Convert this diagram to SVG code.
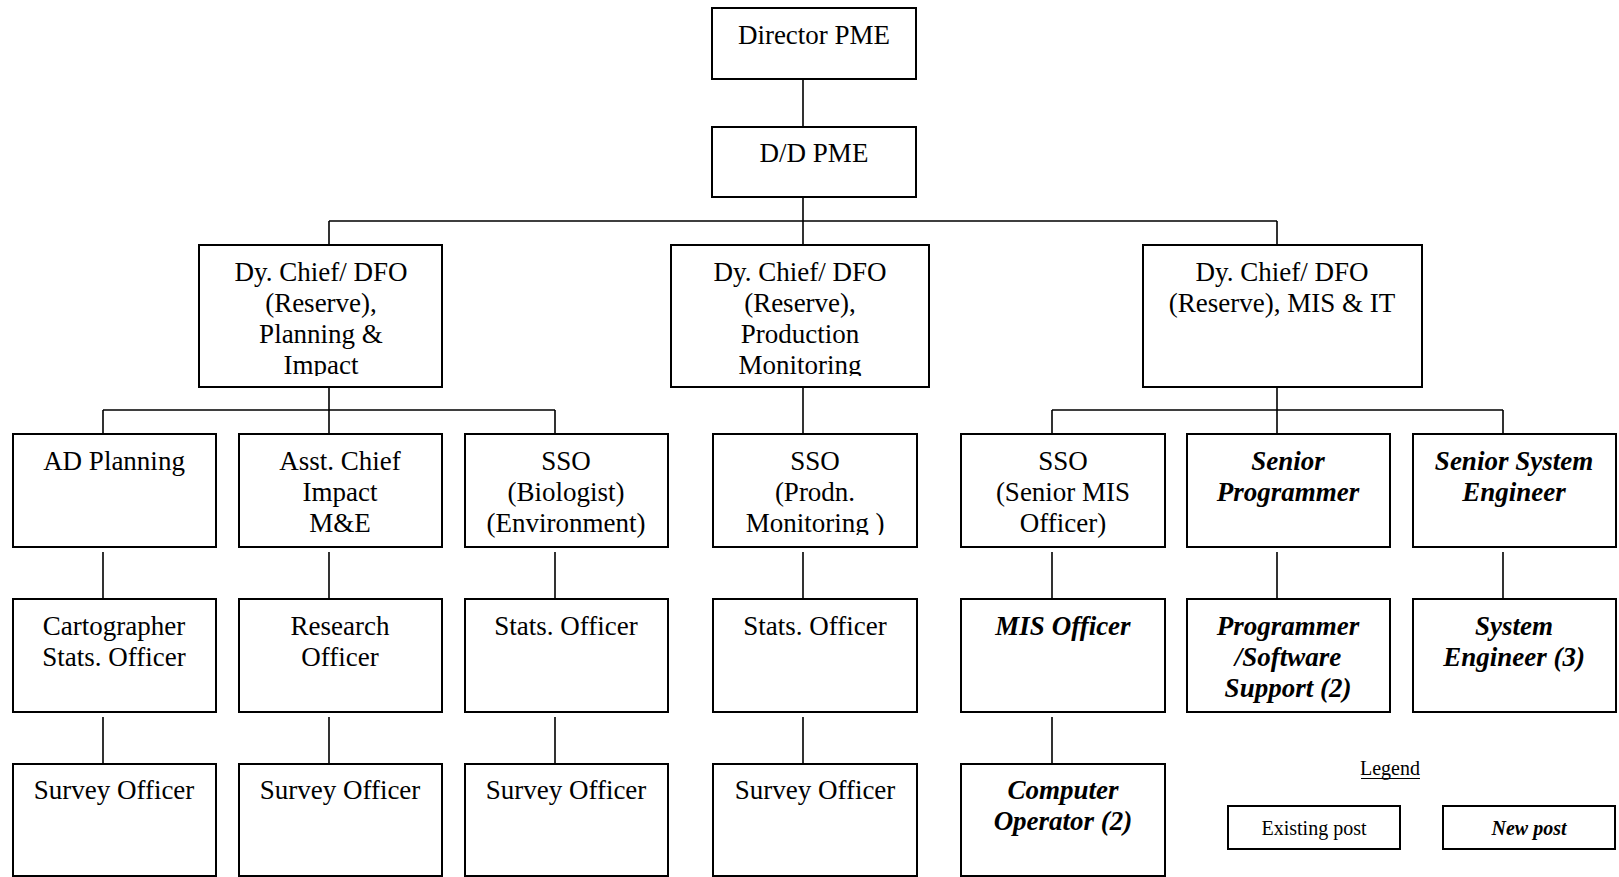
<svg xmlns="http://www.w3.org/2000/svg" width="1619" height="877" viewBox="0 0 1619 877">
<style>
.box{fill:#fff;stroke:#000;stroke-width:2}
.t{font-family:"Liberation Serif","Times New Roman",serif;font-size:27px;fill:#000;text-anchor:middle}
.n{font-weight:bold;font-style:italic}
.c{stroke:#000;stroke-width:1.6;fill:none}
.lg{font-family:"Liberation Serif","Times New Roman",serif;font-size:20px;fill:#000;text-anchor:middle}
</style>
<defs>
<clipPath id="clipTop"><rect x="0" y="240" width="1619" height="136"/></clipPath>
<clipPath id="clipRow1"><rect x="0" y="430" width="1619" height="105"/></clipPath>
</defs>
<rect width="1619" height="877" fill="#fff"/>
<g id="connectors">
<path class="c" d="M803 79V127M803 197V221M329 221H1277M329 221V245M803 221V245M1277 221V245"/>
<path class="c" d="M329 387V410M103 410H555M103 410V434M329 410V434M555 410V434"/>
<path class="c" d="M803 387V434"/>
<path class="c" d="M1277 387V410M1052 410H1503M1052 410V434M1277 410V434M1503 410V434"/>
<path class="c" d="M103 552V599M329 552V599M555 552V599M803 552V599M1052 552V599M1277 552V599M1503 552V599"/>
<path class="c" d="M103 717V764M329 717V764M555 717V764M803 717V764M1052 717V764"/>
</g>
<g id="director"><rect class="box" x="712" y="8" width="204" height="71"/><text class="t" x="814" y="44">Director PME</text></g>
<g id="ddpme"><rect class="box" x="712" y="127" width="204" height="70"/><text class="t" x="814" y="162">D/D PME</text></g>
<g id="dy1"><rect class="box" x="199" y="245" width="243" height="142"/><text class="t" clip-path="url(#clipTop)"><tspan x="321" y="281">Dy. Chief/ DFO</tspan><tspan x="321" y="312">(Reserve),</tspan><tspan x="321" y="343">Planning &amp;</tspan><tspan x="321" y="374">Impact</tspan></text></g>
<g id="dy2"><rect class="box" x="671" y="245" width="258" height="142"/><text class="t" clip-path="url(#clipTop)"><tspan x="800" y="281">Dy. Chief/ DFO</tspan><tspan x="800" y="312">(Reserve),</tspan><tspan x="800" y="343">Production</tspan><tspan x="800" y="374">Monitoring</tspan></text></g>
<g id="dy3"><rect class="box" x="1143" y="245" width="279" height="142"/><text class="t"><tspan x="1282" y="281">Dy. Chief/ DFO</tspan><tspan x="1282" y="312">(Reserve), MIS &amp; IT</tspan></text></g>
<g id="adplanning"><rect class="box" x="13" y="434" width="203" height="113"/><text class="t" x="114" y="470">AD Planning</text></g>
<g id="asstchief"><rect class="box" x="239" y="434" width="203" height="113"/><text class="t"><tspan x="340" y="470">Asst. Chief</tspan><tspan x="340" y="501">Impact</tspan><tspan x="340" y="532">M&amp;E</tspan></text></g>
<g id="ssobio"><rect class="box" x="465" y="434" width="203" height="113"/><text class="t"><tspan x="566" y="470">SSO</tspan><tspan x="566" y="501">(Biologist)</tspan><tspan x="566" y="532">(Environment)</tspan></text></g>
<g id="ssoprodn"><rect class="box" x="713" y="434" width="204" height="113"/><text class="t" clip-path="url(#clipRow1)"><tspan x="815" y="470">SSO</tspan><tspan x="815" y="501">(Prodn.</tspan><tspan x="815" y="532">Monitoring )</tspan></text></g>
<g id="ssomis"><rect class="box" x="961" y="434" width="204" height="113"/><text class="t"><tspan x="1063" y="470">SSO</tspan><tspan x="1063" y="501">(Senior MIS</tspan><tspan x="1063" y="532">Officer)</tspan></text></g>
<g id="seniorprog"><rect class="box" x="1187" y="434" width="203" height="113"/><text class="t n"><tspan x="1288" y="470">Senior</tspan><tspan x="1288" y="501">Programmer</tspan></text></g>
<g id="seniorsys"><rect class="box" x="1413" y="434" width="203" height="113"/><text class="t n"><tspan x="1514" y="470">Senior System</tspan><tspan x="1514" y="501">Engineer</tspan></text></g>
<g id="cartographer"><rect class="box" x="13" y="599" width="203" height="113"/><text class="t"><tspan x="114" y="635">Cartographer</tspan><tspan x="114" y="666">Stats. Officer</tspan></text></g>
<g id="research"><rect class="box" x="239" y="599" width="203" height="113"/><text class="t"><tspan x="340" y="635">Research</tspan><tspan x="340" y="666">Officer</tspan></text></g>
<g id="stats1"><rect class="box" x="465" y="599" width="203" height="113"/><text class="t" x="566" y="635">Stats. Officer</text></g>
<g id="stats2"><rect class="box" x="713" y="599" width="204" height="113"/><text class="t" x="815" y="635">Stats. Officer</text></g>
<g id="misofficer"><rect class="box" x="961" y="599" width="204" height="113"/><text class="t n" x="1063" y="635">MIS Officer</text></g>
<g id="programmer"><rect class="box" x="1187" y="599" width="203" height="113"/><text class="t n"><tspan x="1288" y="635">Programmer</tspan><tspan x="1288" y="666">/Software</tspan><tspan x="1288" y="697">Support (2)</tspan></text></g>
<g id="sysengineer"><rect class="box" x="1413" y="599" width="203" height="113"/><text class="t n"><tspan x="1514" y="635">System</tspan><tspan x="1514" y="666">Engineer (3)</tspan></text></g>
<g id="survey1"><rect class="box" x="13" y="764" width="203" height="112"/><text class="t" x="114" y="799">Survey Officer</text></g>
<g id="survey2"><rect class="box" x="239" y="764" width="203" height="112"/><text class="t" x="340" y="799">Survey Officer</text></g>
<g id="survey3"><rect class="box" x="465" y="764" width="203" height="112"/><text class="t" x="566" y="799">Survey Officer</text></g>
<g id="survey4"><rect class="box" x="713" y="764" width="204" height="112"/><text class="t" x="815" y="799">Survey Officer</text></g>
<g id="computerop"><rect class="box" x="961" y="764" width="204" height="112"/><text class="t n"><tspan x="1063" y="799">Computer</tspan><tspan x="1063" y="830">Operator (2)</tspan></text></g>
<g id="legend">
<text class="lg" x="1390" y="775">Legend</text>
<line x1="1361" y1="778.5" x2="1420" y2="778.5" stroke="#000" stroke-width="1"/>
<rect class="box" x="1228" y="806" width="172" height="43"/>
<text class="lg" x="1314" y="835">Existing post</text>
<rect class="box" x="1443" y="806" width="172" height="43"/>
<text class="lg n" x="1529" y="835">New post</text>
</g>
</svg>
